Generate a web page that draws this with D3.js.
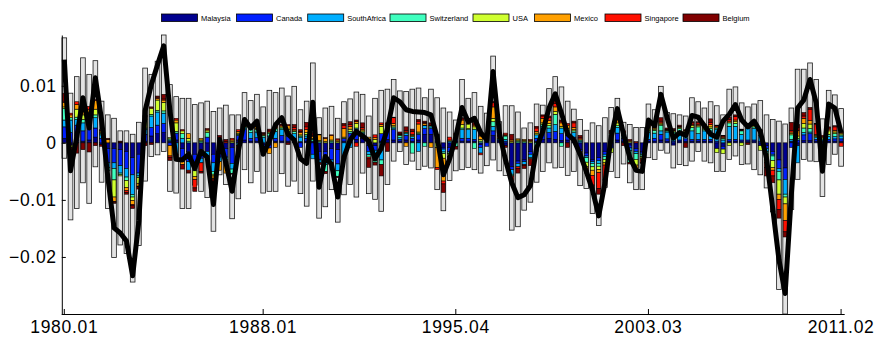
<!DOCTYPE html>
<html><head><meta charset="utf-8">
<script src="https://cdn.jsdelivr.net/npm/d3@7"></script>
<style>
body{margin:0;background:#fff}
svg{display:block}
text{font-family:"Liberation Sans",Arial,Helvetica,sans-serif}
</style></head>
<body><svg id="c" width="880" height="343"></svg>
<script>
// values in units of 0.001
const UNIT = 1e-3;
const seriesNames = ["Malaysia","Canada","SouthAfrica","Switzerland","USA","Mexico","Singapore","Belgium"];
const seriesColors = ["#00008f","#0020ff","#00afff","#40ffbf","#cfff30","#ffa000","#ff1000","#800000"];

const malaysia = [0.8,-0.4,0.5,0.3,0.5,1.0,-0.3,-1.0,-1.0,-1.2, -1.5,-2.6,-2.0,0.3,1.2,1.6,1.8,0.3,0.5,-1.0, -1.5,-2.0,-2.2,-1.5,-2.0,-1.0,-1.0,-0.8,0.5,0.5, 0.3,0.3,-0.3,-0.4,0.3,0.3,0.3,0.2,0.2,0.3, 0.3,-1.5,-1.5,-1.0,-1.2,0.3,0.5,0.6,0.8,-0.5, -0.5,0.3,0.6,0.5,0.3,0.5,0.3,0.5,1.5,1.5, 0.3,-0.8,-0.8,0.3,0.3,0.3,0.3,-0.3,0.2,1.3, 0.3,-0.5,-4.2,-3.2,-3.0,-1.5,0.3,0.6,0.8,0.6, 0.4,0.5,0.4,-1.2,-1.8,-3.0,-2.6,-1.5,-0.6,0.5, 0.3,-0.4,-1.0,-1.5,0.3,0.3,0.5,0.3,-0.4,0.2, 0.3,0.3,0.3,0.3,0.3,-1.0,-0.6,0.3,0.3,0.2, 0.2,0.2,-0.5,-0.5,-1.5,-3.0,-4.4,0.3,-0.5,0.4, 0.4,0.3,0.3,0.3,0.3,0.3];
const canada = [2.0,1.8,2.6,1.8,2.3,1.6,0.8,-2.5,-2.5,-2.8, -3.0,-3.0,-3.3,1.2,1.5,1.5,1.6,-0.5,1.2,-2.3, -1.8,-1.5,-0.5,1.0,-1.5,-1.5,-1.5,-2.8,0.8,1.8, 0.5,0.6,-0.8,-0.5,0.5,1.0,0.8,0.6,-0.8,0.5, -2.0,-1.5,-0.8,-2.0,-2.5,0.5,1.2,1.5,0.6,-1.0, -0.8,1.3,1.8,1.8,0.3,0.8,0.5,1.0,1.0,1.0, 0.5,-0.3,-0.8,0.5,0.5,0.5,0.3,-0.5,-0.6,0.8, 0.2,0.3,-0.5,-0.4,-0.3,-0.5,0.5,1.3,1.0,1.4, 1.2,0.8,0.6,-0.3,-0.5,-0.3,-0.5,-0.5,-0.3,1.2, 0.5,-0.5,-0.5,-0.3,0.3,0.5,1.0,0.4,0.3,0.3, 0.4,0.3,0.3,0.3,0.3,0.3,-0.5,0.3,0.3,0.3, 0.3,0.3,0.3,-0.5,-0.5,-1.5,-2.0,-0.8,0.5,1.0, 1.2,0.3,-0.3,0.3,0.4,0.4];
const southAfrica = [1.2,2.2,1.0,1.4,1.0,1.8,0.6,-0.8,-1.0,-1.3, -1.5,-3.5,-0.5,0.8,2.0,2.3,1.8,0.2,-2.0,0.8, -1.5,-1.0,-0.8,-0.8,-1.5,-0.8,-0.5,-1.0,-0.5,0.3, 1.0,1.0,1.0,1.2,1.2,1.0,0.6,0.8,0.8,0.4, -0.8,-0.5,-1.5,-0.4,-1.2,-2.5,-0.8,0.3,0.3,-0.6, -1.8,-3.0,0.2,0.3,0.3,0.3,0.3,-1.5,0.5,0.3, 0.3,-0.5,0.3,0.3,1.5,1.5,1.8,-1.0,0.3,0.8, 0.2,0.3,-0.8,-0.6,-0.5,-0.6,0.6,1.0,0.8,1.2, 1.0,0.6,0.8,0.3,-0.3,-0.3,-0.5,-0.4,1.3,1.0, 0.5,-0.5,-0.4,-0.3,1.2,0.9,0.6,1.2,1.0,1.5, 1.0,1.5,1.0,1.5,1.5,2.0,0.5,2.3,2.3,1.0, 2.0,2.0,1.0,-0.5,-0.3,-0.5,-2.6,0.3,-3.0,0.4, 0.3,0.3,0.2,0.5,0.4,0.5];
const switzerland = [2.0,0.4,0.4,0.6,0.3,0.5,0.3,-0.6,-2.0,-0.3, -0.6,-0.4,-0.3,0.3,0.3,0.3,0.4,0.2,0.3,0.8, 0.3,-0.4,0.3,0.8,-0.5,0.5,-0.3,-0.8,0.2,0.2, 0.8,0.4,0.3,0.5,0.5,0.3,0.3,0.4,0.2,0.3, 0.3,0.2,-1.2,0.3,-1.0,-0.3,0.3,0.2,0.2,-0.4, -0.3,-0.8,0.2,0.2,0.4,0.2,-1.8,0.2,-0.6,0.2, 0.2,-0.3,-0.3,-0.6,0.3,0.2,-1.0,0.3,0.2,0.8, 0.1,0.6,-0.3,0.3,0.2,-0.2,-1.5,0.3,0.4,1.8, -0.6,0.3,0.3,0.2,-0.8,-0.6,-0.5,-0.5,0.3,0.3, 0.2,-2.0,-1.0,-0.3,0.3,0.5,1.0,0.2,0.6,0.5, 0.2,0.6,1.2,0.3,0.4,0.3,0.3,0.6,0.5,0.6, 0.2,0.3,0.5,-0.5,-0.8,-1.5,-0.5,0.8,0.3,0.8, 0.6,0.2,0.2,0.4,0.5,0.2];
const usa = [0.3,-0.4,1.4,0.8,0.5,1.0,0.2,0.0,-3.0,-0.2, -1.2,-0.6,-1.0,1.5,1.0,1.8,1.5,0.2,1.5,0.5, 0.5,-1.0,0.2,0.3,-0.3,0.3,-0.2,0.2,0.2,0.1, 0.3,0.2,-0.4,0.2,0.2,0.2,0.4,0.1,0.2,0.3, 0.2,0.2,0.2,0.2,0.2,0.2,0.4,0.8,0.2,0.6, 0.6,1.3,0.2,0.2,0.1,0.1,0.2,0.2,0.1,0.1, -0.8,-0.8,-0.5,0.2,0.6,0.8,0.4,0.3,0.2,0.6, 0.1,0.1,0.2,0.2,0.2,0.2,0.3,0.3,0.4,0.5, 0.3,0.3,0.2,-0.6,-0.8,-0.6,-0.6,-0.6,-0.8,0.5, 0.1,0.2,-1.0,-0.3,0.6,0.2,0.2,0.1,0.2,0.2, 0.2,0.3,0.2,0.2,0.3,-0.7,-0.8,-0.5,0.3,-0.5, 0.1,0.2,-0.8,-1.0,-1.2,-2.5,-1.2,0.2,0.4,0.8, 0.8,0.2,0.2,0.6,0.3,0.2];
const mexico = [0.8,0.5,0.8,0.8,1.2,1.5,0.3,0.6,-0.8,0.1, -0.6,-0.7,-0.5,0.5,0.2,0.3,0.4,-1.8,0.5,-0.5, 0.8,-0.5,0.3,0.2,-0.5,-1.5,-1.8,0.3,0.3,0.2, 0.2,0.4,0.2,-1.0,-0.8,0.2,0.6,0.2,0.4,0.5, 0.3,1.0,0.6,0.8,0.3,1.5,0.5,0.3,0.3,0.4, 0.3,0.3,0.3,0.4,0.1,-0.6,0.2,1.4,0.3,-0.8, -3.5,-4.0,0.2,0.2,0.8,0.3,0.3,0.6,0.3,2.0, 0.2,0.1,0.3,0.2,0.2,0.2,0.3,0.8,0.5,0.8, 0.6,0.6,0.4,0.2,-0.6,-0.9,-0.5,-0.4,0.2,1.5, 0.2,0.2,-0.8,-0.3,0.2,0.2,0.2,0.1,0.1,0.1, 0.1,0.2,0.2,0.2,0.4,0.2,0.2,0.3,0.3,0.1, 0.1,0.1,0.2,-0.5,-0.5,-0.9,-2.9,0.3,1.0,0.9, 0.6,0.2,0.2,0.3,0.3,0.2];
const singapore = [0.2,0.3,0.5,0.2,0.6,0.2,0.1,0.0,-0.1,0.1, -0.3,-0.2,-0.1,0.2,0.1,0.2,0.2,-0.3,0.3,0.2, -0.3,-1.5,-1.5,0.2,-0.5,0.2,0.2,0.3,0.3,0.1, 0.0,0.1,0.1,0.2,0.3,0.2,0.2,0.4,0.2,0.5, 0.2,0.1,0.1,0.1,0.2,0.6,0.3,-0.6,0.3,-0.3, 0.5,0.3,0.2,1.0,0.1,0.3,0.5,0.5,0.2,0.2, -0.4,-0.5,0.5,0.2,0.2,0.2,0.2,-0.3,0.2,0.8, 0.2,0.3,-0.8,-0.3,-0.2,0.2,0.6,0.4,0.5,0.6, 0.3,0.3,0.8,0.2,-0.3,-1.7,-2.8,-2.5,0.2,0.3, 0.3,0.2,0.2,-0.4,0.2,0.1,0.3,0.1,0.1,0.1, 0.1,0.3,0.3,0.2,0.4,0.2,0.2,0.3,0.6,0.1, 0.1,0.2,0.1,-0.8,-1.0,-1.8,-2.0,0.3,0.5,0.4, 2.0,1.8,0.2,0.2,0.6,-0.6];
const belgium = [1.4,-1.0,-1.8,-1.2,-1.6,-0.5,-0.3,0.2,-0.2,0.1, -0.3,-0.5,-0.4,-0.5,-0.3,0.2,0.8,-0.5,-0.5,-0.8, -0.2,-0.6,-0.3,-0.5,-1.2,0.3,0.4,-0.1,-0.8,0.6, 0.1,0.2,0.2,0.3,0.2,0.1,-0.3,0.5,0.3,0.8, 0.5,-0.3,-0.4,-0.3,-0.2,0.3,0.5,0.3,0.8,-1.5, -0.5,-2.0,-1.5,0.1,0.3,0.6,0.4,0.3,0.2,0.2, 0.2,-1.5,-0.3,-0.5,0.2,0.3,0.3,0.6,0.2,0.2, 0.5,-0.3,1.0,-0.8,-0.5,-1.2,0.3,0.2,0.3,1.1, 0.2,-0.8,0.3,0.4,-0.2,-0.9,-1.0,-0.3,0.2,0.2, -0.5,-0.3,-0.2,-0.2,0.1,0.2,0.6,0.2,0.2,0.2, -0.8,0.2,0.2,0.2,0.6,0.1,0.1,0.4,0.3,0.1, -0.3,0.2,0.2,-1.5,-1.2,-1.5,-0.9,1.4,0.5,0.6, 0.3,0.1,-0.8,0.2,0.2,0.1];

const totalLine = [14.6,-4.9,1.0,7.9,2.6,11.4,4.0,-6.0,-14.9,-15.8, -17.2,-23.3,-13.7,5.6,10.2,13.7,17.0,5.6,-2.9,-3.0, -2.0,-4.5,-1.5,-2.5,-10.8,0.6,-3.5,-8.5,-1.5,4.1, 2.6,3.8,-2.0,0.3,3.2,4.4,1.5,0.5,-2.8,-3.6, 7.1,-7.8,-2.4,-3.8,-9.5,-2.5,0.5,2.0,1.2,0.3, -2.8,-1.0,2.5,7.9,7.2,5.8,5.5,5.4,5.3,4.9, 1.0,-5.6,-2.8,1.0,6.2,3.7,4.3,1.8,0.5,12.5, 1.8,-3.0,-7.0,-9.6,-9.1,-7.5,-0.9,2.0,6.1,8.6, 5.2,1.5,0.5,-2.0,-5.0,-8.3,-12.8,-7.0,1.0,6.0, 1.5,-2.6,-4.8,-5.0,4.0,3.0,8.5,4.4,0.8,1.8, 1.3,4.8,4.5,3.0,1.5,1.0,3.8,5.0,6.7,4.0, 2.8,3.8,2.0,-2.7,-11.5,-20.5,-26.4,-9.0,6.1,7.5, 11.1,7.0,-5.0,6.8,6.1,1.8];
const bandHigh = [18.4,8.7,11.6,14.9,12.0,14.4,7.3,4.9,4.3,2.1, 2.1,1.5,3.6,13.1,12.0,14.3,18.9,10.2,8.1,7.8, 7.8,6.7,7.0,7.3,5.5,6.1,6.6,4.9,4.9,8.8, 7.4,8.5,6.3,9.2,8.8,9.6,8.2,9.9,5.8,7.3, 14.0,4.4,6.1,6.4,4.3,7.2,7.7,8.9,8.5,4.7, 7.8,9.2,9.4,11.1,9.1,9.0,9.4,9.6,7.9,9.4, 7.9,6.1,5.4,4.0,11.1,7.8,8.8,6.4,5.2,15.2, 3.7,6.5,6.5,5.4,2.6,3.5,6.8,6.6,9.5,11.6, 9.8,7.3,5.9,4.1,2.2,3.5,3.0,4.4,6.2,7.8, 3.6,3.2,2.7,2.7,6.8,5.8,9.9,5.3,5.1,4.9, 4.7,7.9,7.2,6.1,7.2,6.5,4.9,9.4,9.8,7.0, 6.3,6.8,7.4,4.9,4.1,3.8,3.3,6.1,12.9,12.9, 14.0,11.1,4.2,9.2,8.4,6.0];
const bandLow = [-2.7,-13.5,-11.5,-7.0,-10.6,-4.2,-6.9,-11.5,-20.1,-17.9, -19.4,-24.4,-18.0,-6.7,-2.4,-2.1,-1.5,-8.5,-8.8,-11.5, -11.5,-7.4,-8.5,-9.6,-15.5,-5.6,-7.3,-13.3,-9.8,-4.7, -7.0,-5.0,-8.8,-8.5,-8.5,-5.4,-7.6,-6.7,-8.9,-11.1, -6.7,-13.2,-11.2,-8.2,-13.9,-9.1,-7.3,-9.5,-5.3,-8.9, -9.9,-12.0,-7.3,-3.2,-1.5,-3.8,-3.2,-4.7,-4.1,-4.4, -8.2,-11.9,-6.6,-4.9,-4.7,-4.3,-4.7,-5.3,-4.0,-3.0, -4.9,-5.7,-15.3,-14.7,-11.8,-10.4,-6.9,-5.0,-3.5,-4.4, -4.3,-5.7,-5.0,-7.5,-8.0,-12.4,-14.5,-7.8,-5.0,-6.1, -3.7,-7.0,-8.2,-8.2,-2.6,-2.9,-1.3,-1.8,-4.4,-3.8, -4.0,-3.2,-1.5,-3.2,-3.5,-5.0,-5.0,-2.9,-2.3,-3.8, -3.7,-4.7,-5.6,-7.9,-12.1,-25.7,-30.0,-11.7,-6.4,-2.9, -3.2,-3.3,-9.4,-3.8,-2.0,-4.1];

const xTickIndex = [0, 32, 63, 94, 125];
const xTickLabels = ["1980.01","1988.01","1995.04","2003.03","2011.02"];
const yTicks = [0.01, 0, -0.01, -0.02];
const yTickLabels = ["0.01","0","\u22120.01","\u22120.02"];

// quarterly categories 1980.01 .. 2011.02
const quarters = [];
for (let yr = 1980; yr <= 2011; yr++) for (let q = 1; q <= 4; q++) {
  if (yr === 2011 && q > 2) break;
  quarters.push(yr + ".0" + q);
}
const seriesData = [malaysia, canada, southAfrica, switzerland, usa, mexico, singapore, belgium];

const svg = d3.select("#c");
const x = d3.scaleBand().domain(quarters).range([61.2, 844.2]).paddingInner(0).paddingOuter(0);
const y = d3.scaleLinear().domain([-0.030, 0.0189]).range([314, 35]);
const step = x.bandwidth();
const grayW = step * 0.75, colW = step * 0.65;

// gray bands
svg.append("g").selectAll("rect").data(quarters).join("rect")
  .attr("x", d => x(d) + (step - grayW) / 2)
  .attr("width", grayW)
  .attr("y", (d, i) => y(bandHigh[i] * UNIT))
  .attr("height", (d, i) => y(bandLow[i] * UNIT) - y(bandHigh[i] * UNIT))
  .attr("fill", "#e3e3e3").attr("stroke", "#1a1a1a").attr("stroke-width", 0.8);

// stacked contributions
const rows = quarters.map((q, i) => {
  const r = { q };
  seriesNames.forEach((n, k) => r[n] = seriesData[k][i] * UNIT);
  return r;
});
const layers = d3.stack().keys(seriesNames).offset(d3.stackOffsetDiverging)(rows);
const gStack = svg.append("g");
layers.forEach((layer, k) => {
  gStack.append("g").selectAll("rect")
    .data(layer.filter(d => d[1] !== d[0]))
    .join("rect")
    .attr("x", d => x(d.data.q) + (step - colW) / 2)
    .attr("width", colW)
    .attr("y", d => y(Math.max(d[0], d[1])))
    .attr("height", d => Math.abs(y(d[0]) - y(d[1])))
    .attr("fill", seriesColors[k]).attr("stroke", "#000").attr("stroke-width", 0.6);
});

// total line
const line = d3.line().x((d, i) => x(quarters[i]) + step / 2).y(d => y(d * UNIT));
svg.append("path").datum(totalLine).attr("d", line)
  .attr("fill", "none").attr("stroke", "#000").attr("stroke-width", 5)
  .attr("stroke-linejoin", "round");

// axes
const yAxis = d3.axisLeft(y).tickValues(yTicks).tickSize(-4).tickSizeOuter(0).tickPadding(5)
  .tickFormat((d, i) => yTickLabels[i]);
const gy = svg.append("g").attr("transform", "translate(61.8,0)").call(yAxis);
const xAxis = d3.axisBottom(x).tickValues(xTickIndex.map(i => quarters[i])).tickSize(-5).tickSizeOuter(0).tickPadding(7)
  .tickFormat((d, i) => xTickLabels[i]);
const gx = svg.append("g").attr("transform", "translate(0,314)").call(xAxis);
[gy, gx].forEach(g => {
  g.attr("font-family", null).attr("font-size", null);
  g.selectAll("text").attr("font-size", 17.5).attr("fill", "#000")
    .style("letter-spacing", "0.7px")
    .style("font-family", "'Liberation Sans', Arial, sans-serif");
  g.selectAll("line").attr("stroke", "#000");
  g.select(".domain").attr("stroke", "#000").attr("stroke-width", 1);
});

// legend
const legendX = [161.5, 236.5, 307.7, 390, 473, 534.6, 605, 683];
const lg = svg.append("g");
seriesNames.forEach((n, k) => {
  lg.append("rect").attr("x", legendX[k]).attr("y", 14).attr("width", 36).attr("height", 7.5)
    .attr("fill", seriesColors[k]).attr("stroke", "#000").attr("stroke-width", 0.8);
  lg.append("text").attr("x", legendX[k] + 39.5).attr("y", 20.6).attr("font-size", 7.5)
    .attr("fill", "#000").text(n);
});
</script></body></html>
